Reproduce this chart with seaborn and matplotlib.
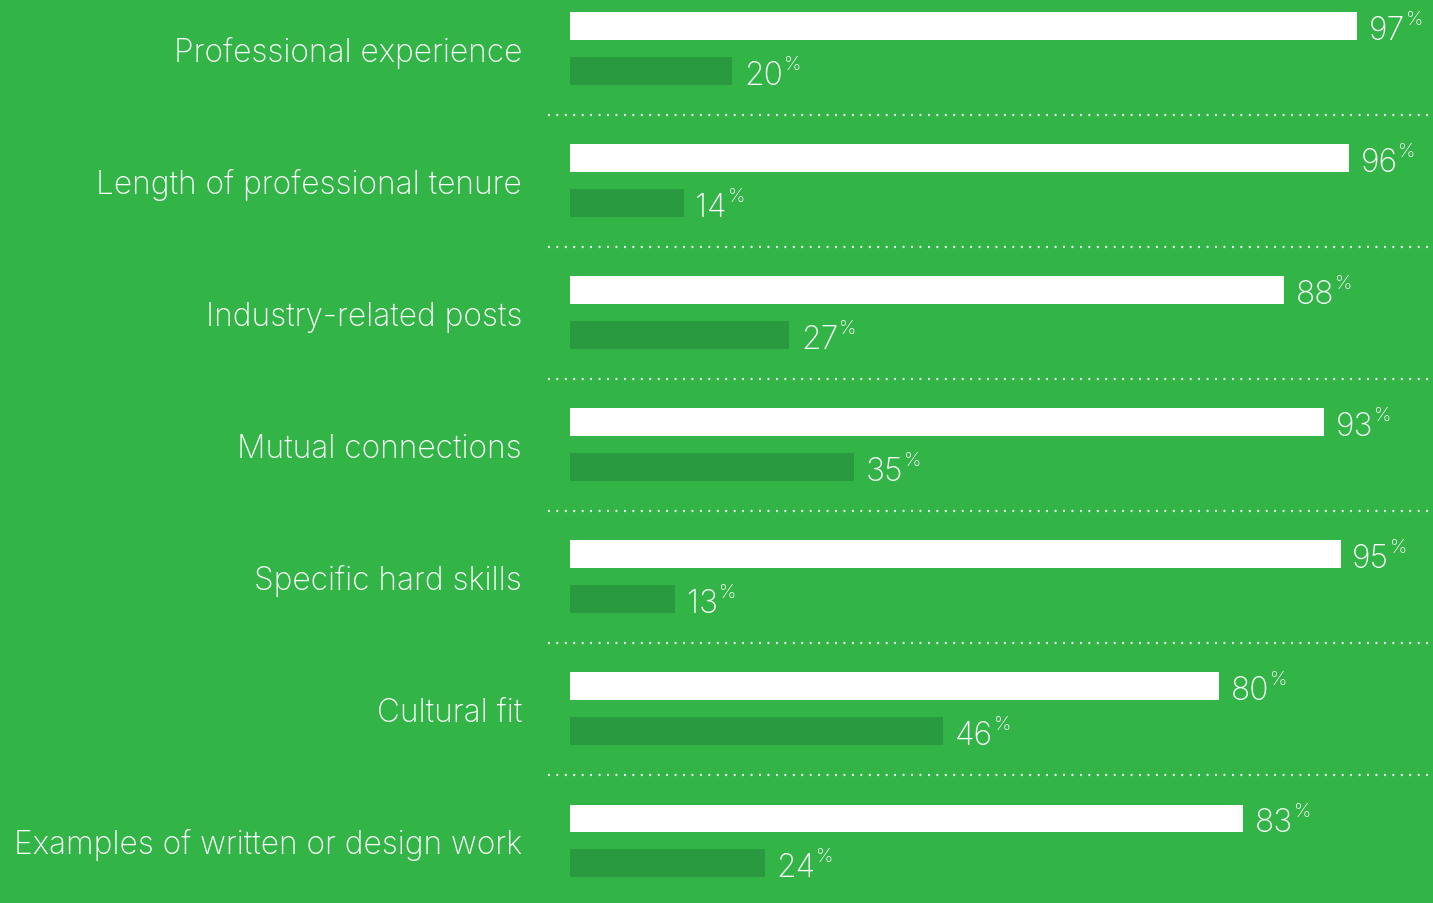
import pandas as pd
import matplotlib
matplotlib.use("Agg")
import matplotlib.pyplot as plt
import seaborn as sns

# data
factors = ["Professional experience", "Length of professional tenure",
           "Industry-related posts", "Mutual connections",
           "Specific hard skills", "Cultural fit",
           "Examples of written or design work"]
share_a = [97, 96, 88, 93, 95, 80, 83]
share_b = [20, 14, 27, 35, 13, 46, 24]
series = ["a", "b"]

bg = "#32b447"
dark = "#2a9a40"

df = pd.DataFrame({
    "factor": factors * 2,
    "value": share_a + share_b,
    "series": [series[0]] * len(factors) + [series[1]] * len(factors),
})

sns.set_theme(style="white")
plt.rcParams["font.family"] = ["Inter", "DejaVu Sans"]

fig = plt.figure(figsize=(14.33, 9.04), dpi=100, facecolor=bg)
ax = fig.add_axes([548 / 1433, 0, 885 / 1433, 1])
ax.set_facecolor(bg)

sns.barplot(data=df, y="factor", x="value", hue="series", orient="h",
            palette=["white", dark], width=0.68, gap=0.38, saturation=1,
            linewidth=0, legend=False, ax=ax)

ax.set_xlim(-2.71, 106.4)
ax.set_ylim(6.47, -0.375)
ax.set_xlabel("")
ax.set_ylabel("")
ax.set_xticks([])
for s in ax.spines.values():
    s.set_visible(False)
ax.tick_params(axis="y", length=0, pad=18.7, labelsize=22.8, labelcolor="white")
for t in ax.get_yticklabels():
    t.set_fontweight("light")

# dotted separators between groups
for i in range(len(factors) - 1):
    ax.axhline(i + 0.5, color="white", lw=1.6, ls=(0, (0.8, 3)))

# value labels with superscript percent sign
for cont in ax.containers:
    for bar in cont:
        w = bar.get_width()
        yc = bar.get_y() + bar.get_height() / 2
        num = ax.annotate(f"{w:.0f}", xy=(w, yc), xytext=(8.5, -9.2),
                          textcoords="offset points", va="baseline", ha="left",
                          color="white", fontsize=23, fontweight="light")
        ax.annotate("%", xy=(1, 1), xycoords=num, xytext=(0.5, 3.5),
                    textcoords="offset points", va="top", ha="left",
                    color="white", fontsize=14, fontweight="light")

fig.savefig("out.png", dpi=100, facecolor=bg)
